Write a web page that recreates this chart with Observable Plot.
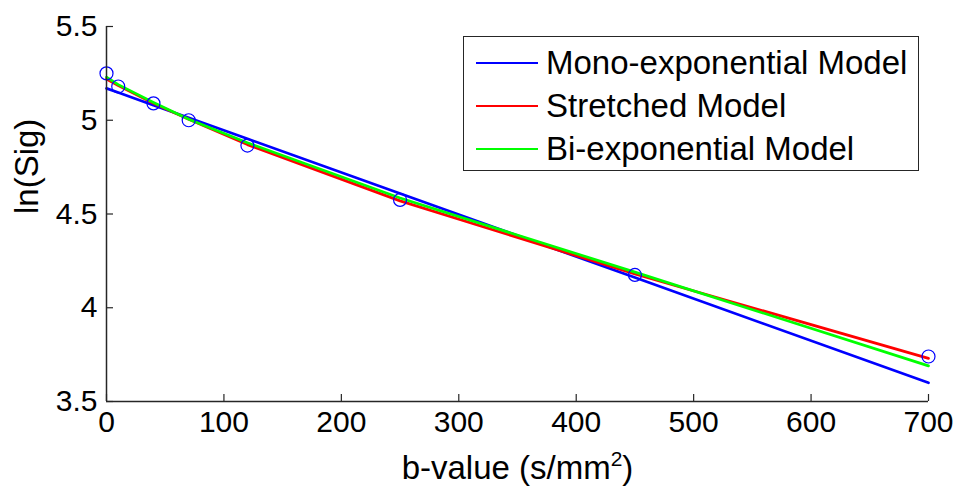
<!DOCTYPE html>
<html>
<head>
<meta charset="utf-8">
<script src="https://cdn.jsdelivr.net/npm/d3@7"></script>
<script src="https://cdn.jsdelivr.net/npm/@observablehq/plot@0.6"></script>
<style>
  html, body { margin: 0; padding: 0; background: #fff; }
  #wrap { position: relative; width: 958px; height: 491px; font-family: "Liberation Sans", Arial, sans-serif; }
  #legend { position: absolute; left: 463px; top: 36px; width: 456px; height: 135px; border: 1.5px solid #262626; background: #fff; box-sizing: border-box; }
  .row { position: absolute; left: 0; height: 43px; display: flex; align-items: center; }
  .sw { display: inline-block; width: 62px; height: 0; border-top: 2.5px solid; margin-left: 12px; margin-right: 8px; }
  .lab { font-size: 33px; color: #000; line-height: 1; }
</style>
</head>
<body>
<div id="wrap"></div>
<script>
const bValues = [0, 10, 40, 70, 120, 250, 450, 700];
const measured = [5.25, 5.18, 5.09, 5.00, 4.865, 4.575, 4.175, 3.74];
const monoFit = [5.17, 5.148, 5.08, 5.013, 4.901, 4.609, 4.161, 3.60];
const stretchedFit = [5.22, 5.185, 5.09, 5.005, 4.87, 4.57, 4.18, 3.73];
const biFit = [5.23, 5.19, 5.095, 5.005, 4.88, 4.585, 4.19, 3.69];
const seriesNames = ["Mono-exponential Model", "Stretched Model", "Bi-exponential Model"];
const seriesColors = ["#0000ff", "#ff0000", "#00ff00"];
const xTicks = [0, 100, 200, 300, 400, 500, 600, 700];
const yTicks = [3.5, 4, 4.5, 5, 5.5];
const xTitle = "b-value (s/mm2)";
const yTitle = "ln(Sig)";

const fits = [monoFit, stretchedFit, biFit];
const lineData = fits.flatMap((arr, i) => bValues.map((b, j) => ({b, v: arr[j], s: seriesNames[i]})));
const pts = bValues.map((b, j) => ({b, v: measured[j]}));

const chart = Plot.plot({
  width: 958,
  height: 491,
  marginLeft: 106,
  marginRight: 30,
  marginTop: 26,
  marginBottom: 90,
  style: {fontFamily: "'Liberation Sans', Arial, sans-serif", fontSize: "30px", color: "#000", background: "#fff"},
  x: {domain: [0, 700]},
  y: {domain: [3.5, 5.5]},
  color: {domain: seriesNames, range: seriesColors},
  marks: [
    Plot.axisX({ticks: xTicks, tickSize: 0, tickPadding: 9, fontSize: 30, label: null, fill: "#000"}),
    Plot.axisY({ticks: yTicks, tickSize: 0, tickPadding: 9, fontSize: 30, label: null, fill: "#000", tickFormat: d => String(d)}),
    Plot.text([xTitle], {frameAnchor: "bottom", dy: 77, fontSize: 33, fill: "#000", text: d => d}),
    Plot.text([yTitle], {frameAnchor: "left", dx: -79, rotate: -90, fontSize: 33, fill: "#000", text: d => d}),
    Plot.ruleX(xTicks, {x: d => d, y1: 3.5, y2: 3.5, insetTop: -7, stroke: "#262626", strokeWidth: 1.2}),
    Plot.ruleY(yTicks, {y: d => d, x1: 0, x2: 0, insetRight: -7, stroke: "#262626", strokeWidth: 1.2}),
    Plot.line(lineData, {x: "b", y: "v", z: "s", stroke: "s", strokeWidth: 2.7}),
    Plot.dot(pts, {x: "b", y: "v", r: 6.5, stroke: "#0000ff", strokeWidth: 1.2, fill: "none"}),
    Plot.ruleX([0], {stroke: "#262626", strokeWidth: 1.5}),
    Plot.ruleY([3.5], {stroke: "#262626", strokeWidth: 1.5})
  ]
});

// superscript the "2" in the x title
chart.querySelectorAll("text").forEach(t => {
  if (t.textContent === xTitle) {
    const ns = "http://www.w3.org/2000/svg";
    t.textContent = "";
    const a = document.createElementNS(ns, "tspan");
    a.textContent = "b-value (s/mm";
    const s = document.createElementNS(ns, "tspan");
    s.textContent = "2";
    s.setAttribute("font-size", "21");
    s.setAttribute("dy", "-13");
    const c = document.createElementNS(ns, "tspan");
    c.textContent = ")";
    c.setAttribute("dy", "13");
    t.append(a, s, c);
  }
});

const wrap = document.getElementById("wrap");
wrap.appendChild(chart);

const legend = document.createElement("div");
legend.id = "legend";
seriesNames.forEach((n, i) => {
  const row = document.createElement("div");
  row.className = "row";
  row.style.top = (4 + i * 43) + "px";
  row.innerHTML = `<span class="sw" style="border-color:${seriesColors[i]}"></span><span class="lab">${n}</span>`;
  legend.appendChild(row);
});
wrap.appendChild(legend);
</script>
</body>
</html>
